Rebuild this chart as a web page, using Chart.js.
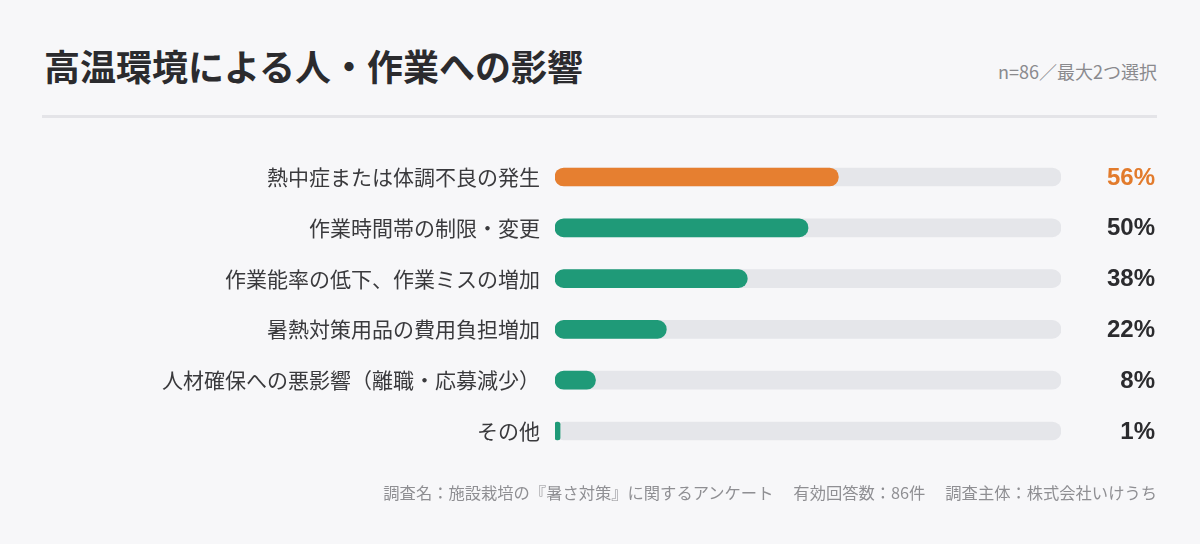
<!DOCTYPE html>
<html lang="ja">
<head>
<meta charset="utf-8">
<script src="https://cdn.jsdelivr.net/npm/chart.js@4.4.1/dist/chart.umd.min.js"></script>
<style>
  html, body { margin: 0; padding: 0; }
  body {
    width: 1200px; height: 544px; overflow: hidden; position: relative;
    background: #f7f7f9;
    font-family: "Noto Sans CJK JP", "Noto Sans", sans-serif;
  }
  #title {
    position: absolute; left: 44px; top: 40px; margin: 0;
    font-size: 36px; font-weight: 700; color: #2b2b2e; line-height: 50px;
  }
  #note {
    position: absolute; right: 43px; top: 58px;
    font-size: 18px; color: #8a8a8e; line-height: 26px;
  }
  #rule {
    position: absolute; left: 42px; right: 43px; top: 115px; height: 3px;
    background: #e4e4e8;
  }
  #chart-wrap { position: absolute; left: 0; top: 124px; width: 1200px; height: 360px; }
  #footer {
    position: absolute; right: 43px; top: 480px;
    font-size: 16.3px; color: #8f8f93; line-height: 24px; white-space: pre;
  }
</style>
</head>
<body>
<h1 id="title">高温環境による人・作業への影響</h1>
<div id="note">n=86／最大2つ選択</div>
<div id="rule"></div>
<div id="chart-wrap"><canvas id="chart"></canvas></div>
<div id="footer">調査名：施設栽培の『暑さ対策』に関するアンケート　 有効回答数：86件　 調査主体：株式会社いけうち</div>

<script>
// chart data
const categories = [
  '熱中症または体調不良の発生',
  '作業時間帯の制限・変更',
  '作業能率の低下、作業ミスの増加',
  '暑熱対策用品の費用負担増加',
  '人材確保への悪影響（離職・応募減少）',
  'その他'
];
const percents = [56, 50, 38, 22, 8, 1];
const trackValues = [100, 100, 100, 100, 100, 100];

const ORANGE = '#e67f30';
const GREEN = '#1f9a78';
const TRACK = '#e5e6ea';

const barColors = percents.map((v, i) => i === 0 ? ORANGE : GREEN);

// draw the % numbers on the right, positioned from the y scale
const valueLabels = {
  id: 'valueLabels',
  afterDatasetsDraw(chart) {
    const ctx = chart.ctx;
    const yScale = chart.scales.y;
    ctx.save();
    ctx.font = '700 24px "Liberation Sans", Arial, sans-serif';
    ctx.textAlign = 'right';
    ctx.textBaseline = 'middle';
    percents.forEach((v, i) => {
      ctx.fillStyle = i === 0 ? '#e27b2c' : '#2b2b2e';
      ctx.fillText(v + '%', 1155, yScale.getPixelForValue(i) + 1);
    });
    ctx.restore();
  }
};

const ctx = document.getElementById('chart').getContext('2d');
new Chart(ctx, {
  type: 'bar',
  data: {
    labels: categories,
    datasets: [
      {
        label: 'value',
        data: percents,
        backgroundColor: barColors,
        barThickness: 18,
        borderRadius: 9,
        borderSkipped: false,
        order: 1
      },
      {
        label: 'track',
        data: trackValues,
        backgroundColor: TRACK,
        barThickness: 18,
        borderRadius: 9,
        borderSkipped: false,
        order: 2
      }
    ]
  },
  options: {
    indexAxis: 'y',
    responsive: true,
    maintainAspectRatio: false,
    animation: false,
    layout: { padding: { left: 0, right: 139, top: 0, bottom: 0 } },
    plugins: {
      legend: { display: false },
      tooltip: { enabled: false }
    },
    datasets: { bar: { grouped: false } },
    scales: {
      x: {
        min: 0, max: 100,
        display: false
      },
      y: {
        grid: { display: false, drawTicks: false },
        border: { display: false },
        ticks: {
          padding: 15,
          color: '#3a3a3d',
          font: { family: '"Noto Sans CJK JP", "Noto Sans", sans-serif', size: 21 }
        },
        afterFit(scale) { scale.width = 555; }
      }
    }
  },
  plugins: [valueLabels]
});
</script>
</body>
</html>
